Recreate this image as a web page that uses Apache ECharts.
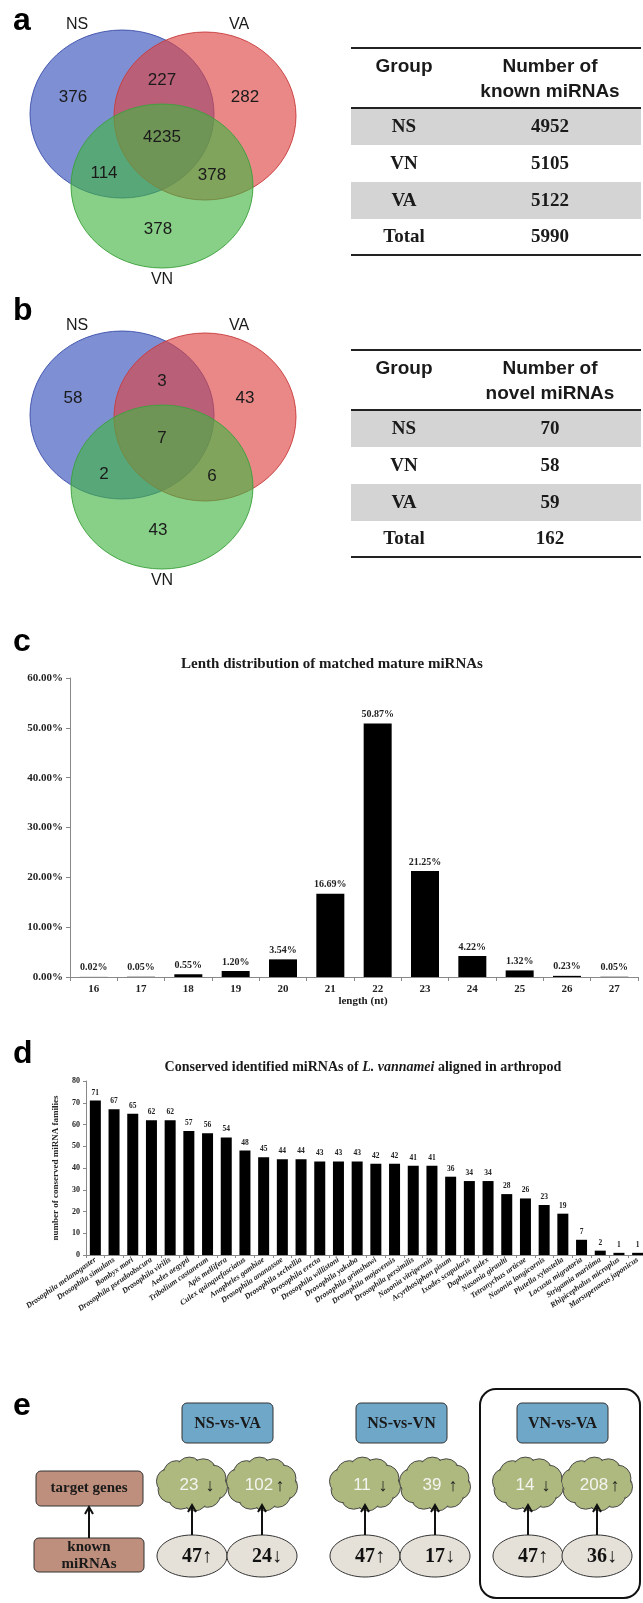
<!DOCTYPE html>
<html><head><meta charset="utf-8">
<script src="https://cdn.jsdelivr.net/npm/echarts/dist/echarts.min.js"></script>
<style>html,body{margin:0;padding:0;background:#fff}#c{width:643px;height:1603px}</style>
</head><body><div id="c"></div>
<script>
// ---------------- data ----------------
const vennSets = ['NS', 'VA', 'VN'];
// order: NS only, VA only, VN only, NS∩VA, NS∩VN, VA∩VN, NS∩VA∩VN
const vennKnown = [376, 282, 378, 227, 114, 378, 4235];
const vennNovel = [58, 43, 43, 3, 2, 6, 7];
const tableGroups = ['NS', 'VN', 'VA', 'Total'];
const knownCounts = [4952, 5105, 5122, 5990];
const novelCounts = [70, 58, 59, 162];
const lengthCats = ['16','17','18','19','20','21','22','23','24','25','26','27'];
const lengthPct = [0.02, 0.05, 0.55, 1.20, 3.54, 16.69, 50.87, 21.25, 4.22, 1.32, 0.23, 0.05];
const pctTicks = [0, 10, 20, 30, 40, 50, 60];
const species = ['Drosophila melanogaster','Drosophila simulans','Bombyx mori','Drosophila pseudoobscura','Drosophila virilis','Aedes aegypti','Tribolium castaneum','Apis mellifera','Culex quinquefasciatus','Anopheles gambiae','Drosophila ananassae','Drosophila sechellia','Drosophila erecta','Drosophila willistoni','Drosophila yakuba','Drosophila grimshawi','Drosophila mojavensis','Drosophila persimilis','Nasonia vitripennis','Acyrthosiphon pisum','Ixodes scapularis','Daphnia pulex','Nasonia giraulti','Tetranychus urticae','Nasonia longicornis','Plutella xylostella','Locusta migratoria','Strigamia maritima','Rhipicephalus microplus','Marsupenaeus japonicus'];
const speciesCounts = [71,67,65,62,62,57,56,54,48,45,44,44,43,43,43,42,42,41,41,36,34,34,28,26,23,19,7,2,1,1];
const comparisons = ['NS-vs-VA', 'NS-vs-VN', 'VN-vs-VA'];
const targetDown = [23, 11, 14];
const targetUp = [102, 39, 208];
const mirnaUp = [47, 47, 47];
const mirnaDown = [24, 17, 36];

// ---------------- layout helpers ----------------
const SANS = 'Liberation Sans, Arial, sans-serif';
const SERIF = 'Liberation Serif, Times New Roman, serif';
const G = [];
function txt(x, y, t, o) {
  o = o || {};
  G.push({type:'text', x:x, y:y, z: o.z || 10, style:{text:t, fill:o.fill || '#1a1a1a',
    fontSize:o.size || 14, fontFamily:o.family || SANS, fontWeight:o.weight || 'normal', fontStyle:o.style || 'normal',
    textAlign:o.align || 'center', align:o.align || 'center', textVerticalAlign:'middle', verticalAlign:'middle',
    lineHeight:o.lh, rich:o.rich}});
}
function panelLetter(x, y, t) { txt(x, y, t, {size:32, weight:'bold', family:SANS, align:'left', fill:'#000'}); }

function venn(oy, counts) {
  const E = [
    {cx:122, cy:114, rx:92, ry:84, fill:'rgba(50,78,186,0.63)', stroke:'rgba(60,80,170,0.9)'},
    {cx:205, cy:116, rx:91, ry:84, fill:'rgba(221,67,67,0.63)', stroke:'rgba(200,60,60,0.9)'},
    {cx:162, cy:186, rx:91, ry:82, fill:'rgba(67,181,67,0.63)', stroke:'rgba(60,160,60,0.9)'}
  ];
  E.forEach(e => G.push({type:'ellipse', z:2, shape:{cx:e.cx, cy:e.cy+oy, rx:e.rx, ry:e.ry},
    style:{fill:e.fill, stroke:e.stroke, lineWidth:1}}));
  const lab = [[77,25],[239,25],[162,280]];
  vennSets.forEach((s,i) => txt(lab[i][0], lab[i][1]+oy, s, {size:16}));
  const pos = [[73,97],[245,97],[158,229],[162,80],[104,173],[212,175],[162,137]];
  counts.forEach((v,i) => txt(pos[i][0], pos[i][1]+oy, String(v), {size:17}));
}
function table(oy, head2, counts) {
  const x0 = 351, x1 = 641;
  [[108,145],[182,219]].forEach(r => G.push({type:'rect', z:1, shape:{x:x0, y:r[0]+oy, width:x1-x0, height:r[1]-r[0]}, style:{fill:'#d4d4d4'}}));
  [48,108,255].forEach(y => G.push({type:'line', z:3, shape:{x1:x0, y1:y+oy, x2:x1, y2:y+oy}, style:{stroke:'#222', lineWidth:2}}));
  txt(404, 67+oy, 'Group', {size:19, weight:'bold'});
  txt(550, 67+oy, 'Number of', {size:19, weight:'bold'});
  txt(550, 92+oy, head2, {size:19, weight:'bold'});
  const ry = [127, 164, 201, 237];
  tableGroups.forEach((g,i) => {
    txt(404, ry[i]+oy, g, {size:19, weight:'bold', family:SERIF});
    txt(550, ry[i]+oy, String(counts[i]), {size:19, weight:'bold', family:SERIF});
  });
}

// panel a, b
panelLetter(13, 21, 'a');
venn(0, vennKnown);
table(0, 'known miRNAs', knownCounts);
panelLetter(13, 311, 'b');
venn(301, vennNovel);
table(302, 'novel miRNAs', novelCounts);

// panel c / d headings
panelLetter(13, 642, 'c');
txt(332, 664, 'Lenth distribution of matched mature miRNAs', {size:15, weight:'bold', family:SERIF});
txt(363, 1001, 'length (nt)', {size:11, weight:'bold', family:SERIF});
panelLetter(13, 1054, 'd');
G.push({type:'text', x:363, y:1067, z:10, style:{
  text:'{b|Conserved identified miRNAs of }{i|L. vannamei}{b| aligned in arthropod}',
  textAlign:'center', align:'center', textVerticalAlign:'middle', verticalAlign:'middle', fill:'#1a1a1a',
  rich:{b:{fontSize:14, fontWeight:'bold', fontFamily:SERIF, fill:'#1a1a1a'}, i:{fontSize:14, fontWeight:'bold', fontStyle:'italic', fontFamily:SERIF, fill:'#1a1a1a'}}}});

// ---------------- panel e ----------------
panelLetter(13, 1406, 'e');
function arrowUp(x, yFrom, yTo) {
  G.push({type:'line', z:6, shape:{x1:x, y1:yFrom, x2:x, y2:yTo+1}, style:{stroke:'#111', lineWidth:2}});
  G.push({type:'polyline', z:6, shape:{points:[[x-4,yTo+7],[x,yTo],[x+4,yTo+7]]}, style:{stroke:'#111', lineWidth:2, fill:null}});
}
function cloud(cx, cy) {
  const n = 10, ax = 23, ay = 14, r = 13;
  const pts = [];
  for (let k = 0; k < n; k++) { const a = (k / n) * Math.PI * 2 + 0.2; pts.push([cx + ax*Math.cos(a), cy + ay*Math.sin(a)]); }
  pts.forEach(p => G.push({type:'circle', z:4, shape:{cx:p[0], cy:p[1], r:r}, style:{fill:'#adb97e', stroke:'#4a4a4a', lineWidth:1}}));
  pts.forEach(p => G.push({type:'circle', z:5, shape:{cx:p[0], cy:p[1], r:r-1.3}, style:{fill:'#adb97e'}}));
  G.push({type:'ellipse', z:5, shape:{cx:cx, cy:cy, rx:ax+2, ry:ay+2}, style:{fill:'#adb97e'}});
}
// left legend boxes
G.push({type:'rect', z:3, shape:{x:36, y:1471, width:107, height:35, r:5}, style:{fill:'#be8f7c', stroke:'#333', lineWidth:1}});
txt(89, 1488, 'target genes', {size:15, weight:'bold', family:SERIF});
G.push({type:'rect', z:3, shape:{x:34, y:1538, width:110, height:34, r:5}, style:{fill:'#be8f7c', stroke:'#333', lineWidth:1}});
txt(89, 1556, 'known\nmiRNAs', {size:15, weight:'bold', family:SERIF, lh:17});
arrowUp(89, 1538, 1507);
// big frame
G.push({type:'rect', z:1, shape:{x:480, y:1389, width:160, height:209, r:16}, style:{fill:'none', stroke:'#111', lineWidth:2}});
const boxX = [182, 356, 517];
const pairX = [[192, 262], [365, 435], [528, 597]];
comparisons.forEach((c, i) => {
  G.push({type:'rect', z:3, shape:{x:boxX[i], y:1403, width:91, height:40, r:5}, style:{fill:'#6fa7c9', stroke:'#333', lineWidth:1}});
  txt(boxX[i]+45.5, 1424, c, {size:16, weight:'bold', family:SERIF});
  const tv = [targetDown[i], targetUp[i]], ta = ['↓', '↑'];
  const mv = [mirnaUp[i], mirnaDown[i]], ma = ['↑', '↓'];
  pairX[i].forEach((cx, j) => {
    cloud(cx, 1484);
    txt(cx - 3, 1485, String(tv[j]), {size:17, fill:'#f4f4f0', z:7});
    txt(cx + 18, 1486, ta[j], {size:18, fill:'#222', z:7});
    G.push({type:'ellipse', z:4, shape:{cx:cx, cy:1556, rx:35, ry:21}, style:{fill:'#e5e1d8', stroke:'#333', lineWidth:1}});
    txt(cx + 5, 1557, mv[j] + ma[j], {size:20, weight:'bold', family:SERIF, fill:'#111'});
    arrowUp(cx, 1535, 1505);
  });
});

// ---------------- chart ----------------
const serifLbl = {fontFamily:SERIF, fontWeight:'bold', color:'#222'};
const chart = echarts.init(document.getElementById('c'), null, {renderer:'canvas'});
chart.setOption({
  animation:false,
  backgroundColor:'#fff',
  grid:[
    {left:70, top:678, width:568, height:299, containLabel:false, outerBoundsMode:'none'},
    {left:86, top:1081, width:561, height:174, containLabel:false, outerBoundsMode:'none'}
  ],
  xAxis:[
    {type:'category', gridIndex:0, data:lengthCats,
     axisLine:{lineStyle:{color:'#888', width:1}}, axisTick:{show:true, length:4, lineStyle:{color:'#888'}},
     axisLabel:Object.assign({fontSize:11, margin:7}, serifLbl)},
    {type:'category', gridIndex:1, data:species,
     axisLine:{lineStyle:{color:'#888', width:1}}, axisTick:{show:true, length:3, lineStyle:{color:'#888'}},
     axisLabel:Object.assign({fontSize:8, fontStyle:'italic', rotate:35, interval:0, margin:4}, serifLbl)}
  ],
  yAxis:[
    {type:'value', gridIndex:0, min:pctTicks[0], max:pctTicks[pctTicks.length-1], interval:10,
     axisLine:{show:true, lineStyle:{color:'#888'}}, axisTick:{show:true, length:4, lineStyle:{color:'#888'}},
     splitLine:{show:false},
     axisLabel:Object.assign({fontSize:11, margin:7, formatter:v => v.toFixed(2) + '%'}, serifLbl)},
    {type:'value', gridIndex:1, min:0, max:80, interval:10,
     name:'number of conserved miRNA families', nameLocation:'middle', nameGap:26, nameRotate:90,
     nameTextStyle:{fontFamily:SERIF, fontWeight:'bold', fontSize:9, color:'#222'},
     axisLine:{show:true, lineStyle:{color:'#888'}}, axisTick:{show:true, length:3, lineStyle:{color:'#888'}},
     splitLine:{show:false},
     axisLabel:Object.assign({fontSize:8, margin:6}, serifLbl)}
  ],
  series:[
    {type:'bar', xAxisIndex:0, yAxisIndex:0, data:lengthPct, barWidth:28, itemStyle:{color:'#000'},
     label:Object.assign({show:true, position:'top', distance:4, fontSize:10, formatter:p => p.value.toFixed(2) + '%'}, serifLbl)},
    {type:'bar', xAxisIndex:1, yAxisIndex:1, data:speciesCounts, barWidth:11, itemStyle:{color:'#000'},
     label:Object.assign({show:true, position:'top', distance:4, fontSize:7.5}, serifLbl)}
  ],
  graphic:{elements:G}
});
</script></body></html>
